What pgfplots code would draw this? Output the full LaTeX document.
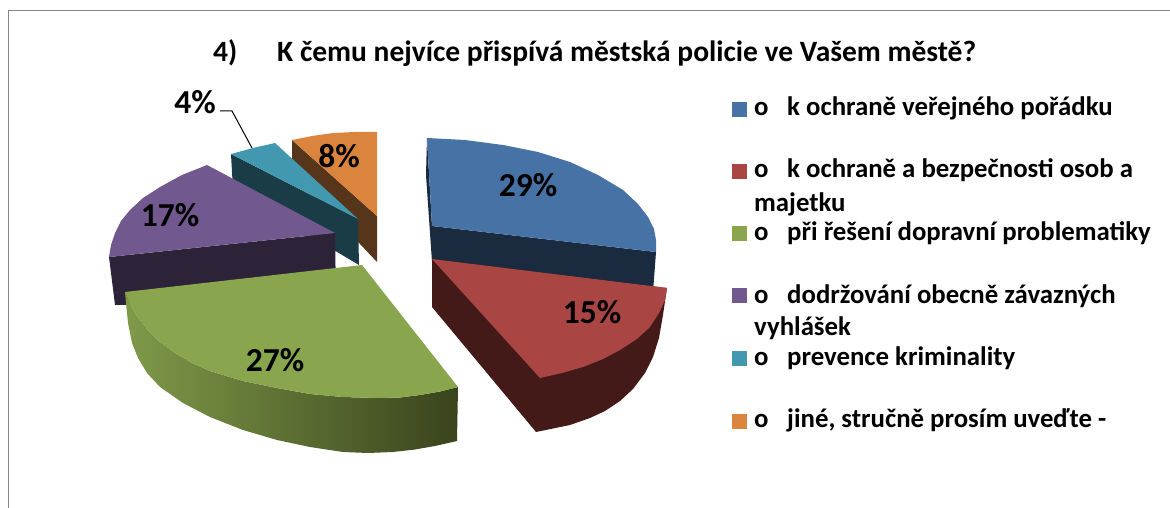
\documentclass[border=0pt]{standalone}
\usepackage{fontspec}
\setmainfont{Carlito}
\usepackage{pgfplots}
\pgfplotsset{compat=1.18}
\definecolor{cBlue}{HTML}{4672A6}\definecolor{cBlueD}{HTML}{1A2B40}
\definecolor{cRed}{HTML}{A94542}\definecolor{cRedD}{HTML}{441A18}
\definecolor{cGreen}{HTML}{89A54E}\definecolor{cGreenL}{HTML}{7F9A49}\definecolor{cGreenD}{HTML}{39431C}
\definecolor{cPurple}{HTML}{71588F}\definecolor{cPurpleD}{HTML}{2D2338}
\definecolor{cTeal}{HTML}{4198AF}\definecolor{cTealD}{HTML}{1A3C46}
\definecolor{cOrange}{HTML}{DB843D}\definecolor{cOrangeD}{HTML}{57351A}
\newcommand{\leg}[3]{\node[anchor=base west,inner sep=0pt,font=\fontsize{26.8}{26.8}\selectfont\bfseries] at (axis cs:#1,#2) {#3};}
\newcommand{\pct}[3]{\node[font=\fontsize{33.5}{33.5}\selectfont\bfseries] at (axis cs:#1,#2) {#3};}
\begin{document}
\begin{tikzpicture}
\useasboundingbox (0,0) rectangle (1170pt,508pt);
\begin{axis}[at={(0,0)},anchor=south west,width=1170pt,height=508pt,scale only axis,
  xmin=0,xmax=1170,ymin=0,ymax=508,y dir=reverse,hide axis,clip=true]
% frame
\addplot[draw=black!48,line width=1.6pt] coordinates {(8.5,508) (8.5,10.5) (1170,10.5)};
% orange
\addplot[fill=cOrangeD,draw=none] coordinates {(292,140) (377,216) (377,262) (292,172)} --cycle;
\addplot[fill=cOrange,draw=none] coordinates {(292,140) (312,136) (333,133) (355,132) (377,132) (377,216)} --cycle;
% teal
\addplot[fill=cTealD,draw=none] coordinates {(231,154) (358,219) (359,265) (233,190)} --cycle;
\addplot[fill=cTeal,draw=none] coordinates {(231,154) (253,148) (275,143) (358,219)} --cycle;
% purple
\addplot[fill=cPurpleD,draw=none] coordinates {(109,257) (335,233) (336,300) (115,305)} --cycle;
\addplot[fill=cPurple,draw=none] coordinates {(207,165) (182,175) (160,187) (143,198) (130,210) (121,221) (115,233) (111,245) (109,257) (335,233)} --cycle;
% blue
\addplot[fill=cBlueD,draw=none] coordinates {(427,138) (426,175) (432,262) (432,226)} --cycle;
\addplot[fill=cBlueD,draw=none] coordinates {(432,226) (656,252) (653,292) (432,262)} --cycle;
\addplot[fill=cBlue,draw=none] coordinates {(427,138) (465,140) (503,145) (538,152) (570,162) (598,175) (623,190) (638,204) (648,217) (654,229) (656,240) (656,252) (432,226)} --cycle;
% red
\addplot[fill=cRedD,draw=none] coordinates {(432,259) (432,307) (536,432) (570,425) (590,418) (605,411) (620,401) (633,389) (645,373) (653,357) (659,338) (663,315) (667,288)} --cycle;
\addplot[fill=cRed,draw=none] coordinates {(432,259) (667,288) (665,300) (659,313) (650,327) (637,339) (620,350) (603,359) (583,367) (562,373) (540,378)} --cycle;
% green
\addplot[left color=cGreenL,right color=cGreenD,draw=none] coordinates {(125,292) (130,304) (137,316) (147,329) (160,342) (175,353) (192,363) (210,371) (243,381) (277,388) (310,394) (343,397) (377,398) (400,397.5) (420,395) (440,391.5) (458,387) (457,441) (435,446) (415,449.5) (393,452) (368,453) (343,452) (310,447) (277,440) (243,430) (210,417) (183,403) (160,387) (147,373) (138,358) (132,343) (128,323) (126,303)} --cycle;
\addplot[fill=cGreen,draw=none] coordinates {(125,292) (362,265) (458,387) (440,391.5) (420,395) (400,397.5) (377,398) (343,397) (310,394) (277,388) (243,381) (210,371) (192,363) (175,353) (160,342) (147,329) (137,316) (130,304)} --cycle;
% leader
\addplot[black,line width=1pt] coordinates {(220,111) (232,111) (252,148)};
% legend swatches
\addplot[fill=cBlue,draw=none] coordinates {(732,102) (747,102) (747,117) (732,117)} --cycle;
\addplot[fill=cRed,draw=none] coordinates {(732,164) (747,164) (747,179) (732,179)} --cycle;
\addplot[fill=cGreen,draw=none] coordinates {(732,226) (747,226) (747,241) (732,241)} --cycle;
\addplot[fill=cPurple,draw=none] coordinates {(732,288) (747,288) (747,303) (732,303)} --cycle;
\addplot[fill=cTeal,draw=none] coordinates {(732,351) (747,351) (747,366) (732,366)} --cycle;
\addplot[fill=cOrange,draw=none] coordinates {(732,414) (747,414) (747,429) (732,429)} --cycle;
% title
\node[anchor=base west,inner sep=0pt,font=\fontsize{29.5}{29.5}\selectfont\bfseries] at (axis cs:213,62) {4)};
\node[anchor=base west,inner sep=0pt,font=\fontsize{29.5}{29.5}\selectfont\bfseries] at (axis cs:277,62) {K čemu nejvíce přispívá městská policie ve Vašem městě?};
% data labels
\pct{195}{102}{4\%}
\pct{339}{156}{8\%}
\pct{170}{215}{17\%}
\pct{528}{185}{29\%}
\pct{592}{312}{15\%}
\pct{275}{360}{27\%}
% legend text
\leg{754}{116}{o}\leg{787}{116}{k ochraně veřejného pořádku}
\leg{754}{178}{o}\leg{787}{178}{k ochraně a bezpečnosti osob a}
\leg{754}{211}{majetku}
\leg{754}{240}{o}\leg{787}{240}{při řešení dopravní problematiky}
\leg{754}{303}{o}\leg{787}{303}{dodržování obecně závazných}
\leg{754}{335}{vyhlášek}
\leg{754}{365}{o}\leg{787}{365}{prevence kriminality}
\leg{754}{427}{o}\leg{787}{427}{jiné, stručně prosím uveďte -}
\end{axis}
\end{tikzpicture}
\end{document}
